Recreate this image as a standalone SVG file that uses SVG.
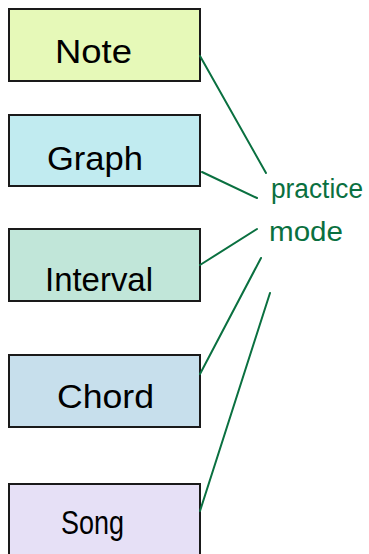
<svg xmlns="http://www.w3.org/2000/svg" width="369" height="554" viewBox="0 0 369 554">
<style>
.box{stroke:#1a1a1a;stroke-width:2}
.lbl{font-family:"Liberation Sans",Arial,sans-serif;font-size:34px;fill:#000}
.pm{font-family:"Liberation Sans",Arial,sans-serif;font-size:27px;fill:#0a7040}
.conn line{stroke:#0a7040;stroke-width:2;stroke-linecap:round}
</style>
<rect width="369" height="554" fill="#fff"/>
<g id="note"><rect class="box" x="9" y="9" width="191" height="72" fill="#e6f9b8"/><text class="lbl" x="55" y="63" font-size="36" textLength="77" lengthAdjust="spacingAndGlyphs">Note</text></g>
<g id="graph"><rect class="box" x="9" y="115" width="191" height="71" fill="#c1ebf0"/><text class="lbl" x="47" y="170" textLength="96" lengthAdjust="spacingAndGlyphs">Graph</text></g>
<g id="interval"><rect class="box" x="9" y="229" width="191" height="72" fill="#c1e6d9"/><text class="lbl" x="45" y="291" textLength="108" lengthAdjust="spacingAndGlyphs">Interval</text></g>
<g id="chord"><rect class="box" x="9" y="355" width="191" height="72" fill="#c7dfec"/><text class="lbl" x="57" y="408" textLength="97" lengthAdjust="spacingAndGlyphs">Chord</text></g>
<g id="song"><rect class="box" x="9" y="484" width="191" height="80" fill="#e6e0f6"/><text class="lbl" x="61" y="534" font-size="30" textLength="63" lengthAdjust="spacingAndGlyphs">Song</text></g>
<g id="practice-mode"><text class="pm" x="271" y="198" textLength="92" lengthAdjust="spacingAndGlyphs">practice</text><text class="pm" x="269" y="241" textLength="74" lengthAdjust="spacingAndGlyphs">mode</text></g>
<g class="conn" id="connectors">
<line x1="200" y1="56" x2="266" y2="173"/>
<line x1="202" y1="172" x2="257" y2="198"/>
<line x1="200" y1="265" x2="257" y2="229"/>
<line x1="200" y1="374" x2="261" y2="258"/>
<line x1="200" y1="511" x2="270" y2="293"/>
</g>
</svg>
